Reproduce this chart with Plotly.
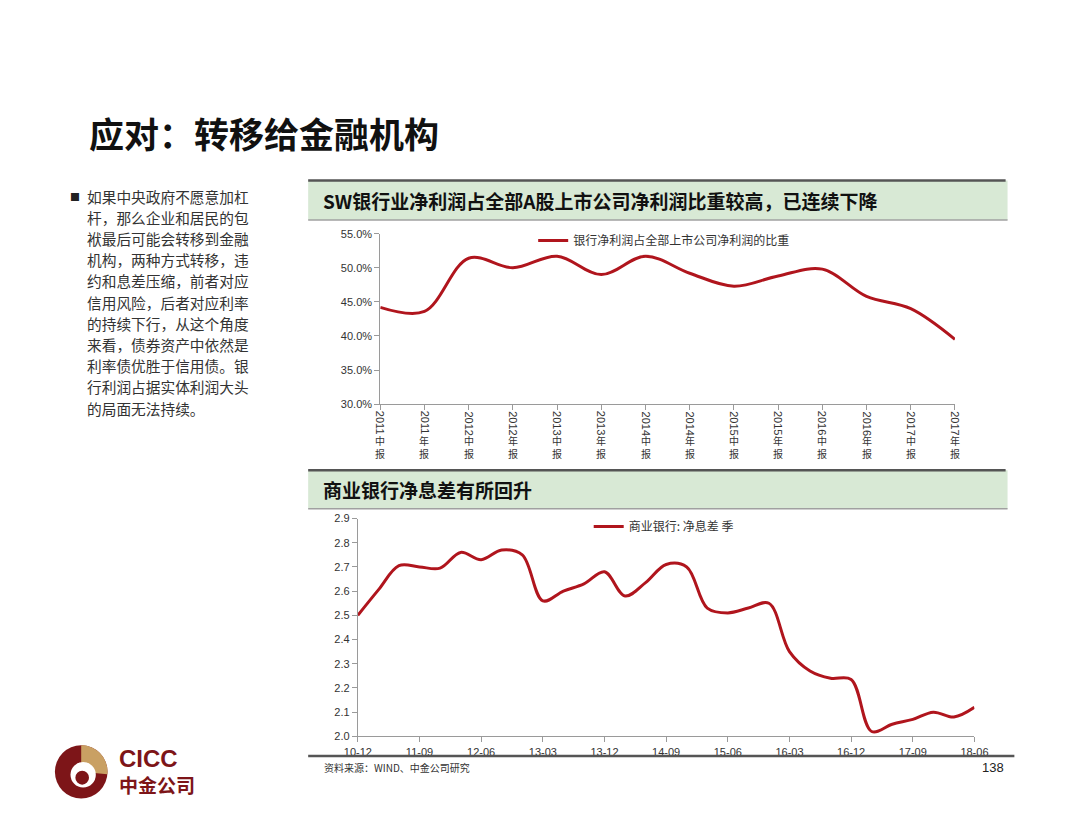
import math
import plotly.graph_objects as go

W, H = 1080, 834

# ---------------- data ----------------
top_categories = ["2011中报", "2011年报", "2012中报", "2012年报", "2013中报", "2013年报", "2014中报",
                  "2014年报", "2015中报", "2015年报", "2016中报", "2016年报", "2017中报", "2017年报"]
top_years = ["2011", "2011", "2012", "2012", "2013", "2013", "2014",
             "2014", "2015", "2015", "2016", "2016", "2017", "2017"]
top_suffix = ["中<br>报", "年<br>报"] * 7
bank_profit_share = [44.2, 43.6, 51.4, 50.0, 51.7, 49.0, 51.7,
                     49.2, 47.3, 48.8, 49.8, 45.8, 44.0, 39.5]

quarters = ["10-12", "11-03", "11-06", "11-09", "11-12", "12-03", "12-06", "12-09", "12-12",
            "13-03", "13-06", "13-09", "13-12", "14-03", "14-06", "14-09", "14-12",
            "15-03", "15-06", "15-09", "15-12", "16-03", "16-06", "16-09", "16-12",
            "17-03", "17-06", "17-09", "17-12", "18-03", "18-06"]
nim = [2.50, 2.605, 2.705, 2.70, 2.695, 2.76, 2.73, 2.77, 2.75,
       2.56, 2.60, 2.63, 2.68, 2.58, 2.635, 2.71, 2.70,
       2.53, 2.51, 2.53, 2.55, 2.35, 2.27, 2.24, 2.235,
       2.02, 2.05, 2.07, 2.10, 2.08, 2.12]
bottom_ticks = quarters[::3]

title_text = "应对：转移给金融机构"
body_lines = ["如果中央政府不愿意加杠", "杆，那么企业和居民的包", "袱最后可能会转移到金融",
              "机构，两种方式转移，违", "约和息差压缩，前者对应", "信用风险，后者对应利率",
              "的持续下行，从这个角度", "来看，债券资产中依然是", "利率债优胜于信用债。银",
              "行利润占据实体利润大头", "的局面无法持续。"]
top_header = "SW银行业净利润占全部A股上市公司净利润比重较高，已连续下降"
bottom_header = "商业银行净息差有所回升"
top_series_name = "银行净利润占全部上市公司净利润的比重"
bottom_series_name = "商业银行: 净息差 季"
source_text = "资料来源：WIND、中金公司研究"
page_no = "138"

# ---------------- helpers ----------------
def px(x):
    return x / W

def py(y):
    return 1 - y / H

RED = "#b0151d"
CJK = "Noto Sans CJK SC"
LAT = "Liberation Sans"
DARKRED = "#7d1518"
GOLD = "#c9a063"

fig = go.Figure()

fig.add_trace(go.Scatter(x=top_categories, y=bank_profit_share, mode="lines",
                         name=top_series_name,
                         line=dict(color=RED, width=3, shape="spline", smoothing=1),
                         xaxis="x", yaxis="y", legend="legend"))
fig.add_trace(go.Scatter(x=quarters, y=nim, mode="lines", name=bottom_series_name,
                         line=dict(color=RED, width=3, shape="spline", smoothing=1),
                         xaxis="x2", yaxis="y2", legend="legend2"))

axis_common = dict(showgrid=False, zeroline=False, showline=True, linecolor="#9a9a9a",
                   linewidth=1, ticks="outside", tickcolor="#9a9a9a", ticklen=5,
                   tickfont=dict(family=LAT, size=11, color="#333"))

fig.update_layout(
    width=W, height=H, margin=dict(l=0, r=0, t=0, b=0),
    paper_bgcolor="white", plot_bgcolor="white",
    xaxis=dict(domain=[px(376), px(966)], anchor="y", type="category",
               range=[0, len(top_categories) - 1], showticklabels=False, **axis_common),
    yaxis=dict(domain=[py(404), py(231)], anchor="x", range=[30, 55], dtick=5,
               tickformat=".1f", ticksuffix="%", **axis_common),
    xaxis2=dict(domain=[px(353), px(986)], anchor="y2", type="category",
                range=[0, len(quarters) - 1], tickvals=bottom_ticks, ticktext=bottom_ticks,
                **axis_common),
    yaxis2=dict(domain=[py(741), py(520)], anchor="x2", range=[2.0, 2.9], dtick=0.1,
                tickformat=".1f", **axis_common),
    legend=dict(x=px(533), y=py(238), xanchor="left", yanchor="middle",
                bgcolor="rgba(0,0,0,0)", font=dict(family=CJK, size=12, color="#333")),
    legend2=dict(x=px(590), y=py(528), xanchor="left", yanchor="middle",
                 bgcolor="rgba(0,0,0,0)", font=dict(family=CJK, size=12, color="#333")),
    showlegend=True,
)

shapes = []
# header bands
for (y0, y1) in [(177, 217), (471, 510)]:
    shapes.append(dict(type="rect", xref="paper", yref="paper", x0=px(302), x1=px(1020),
                       y0=py(y1), y1=py(y0), fillcolor="#d8e9d5", line=dict(width=0), layer="below"))
    shapes.append(dict(type="line", xref="paper", yref="paper", x0=px(302), x1=px(1018),
                       y0=py(y0), y1=py(y0), line=dict(color="#555", width=2.5)))
    shapes.append(dict(type="line", xref="paper", yref="paper", x0=px(302), x1=px(1020),
                       y0=py(y1), y1=py(y1), line=dict(color="#a0a0a0", width=1.5)))
# footer line
shapes.append(dict(type="line", xref="paper", yref="paper", x0=px(302), x1=px(1027),
                   y0=py(761), y1=py(761), line=dict(color="#555", width=2.5)))

# logo
cx, cy, r = 69, 777, 27
def circle(cx, cy, r, color):
    return dict(type="circle", xref="paper", yref="paper", x0=px(cx - r), x1=px(cx + r),
                y0=py(cy + r), y1=py(cy - r), fillcolor=color, line=dict(width=0))
shapes.append(circle(cx, cy, r, DARKRED))
pts = [(cx, cy)]
for k in range(0, 31):
    a = math.radians(90 - 95 * k / 30)
    pts.append((cx + r * math.cos(a), cy - r * math.sin(a)))
path = "M " + " L ".join(f"{px(x):.5f},{py(y):.5f}" for x, y in pts) + " Z"
shapes.append(dict(type="path", xref="paper", yref="paper", path=path, fillcolor=GOLD,
                   line=dict(width=0)))
shapes.append(circle(cx + 2, cy + 3, 13, "white"))
shapes.append(circle(cx + 1, cy + 6, 7, DARKRED))

annotations = []
# top x tick labels: rotated year + upright suffix
for cat, yr, sfx in zip(top_categories, top_years, top_suffix):
    annotations.append(dict(x=cat, xref="x", y=py(409), yref="paper", text=yr, textangle=90,
                            showarrow=False, xanchor="center", yanchor="top",
                            font=dict(family=LAT, size=11, color="#333")))
    annotations.append(dict(x=cat, xref="x", y=py(431), yref="paper", text=sfx,
                            showarrow=False, xanchor="center", yanchor="top",
                            font=dict(family=CJK, size=10, color="#333")))

# body paragraph, one annotation per line
for i, line in enumerate(body_lines):
    annotations.append(dict(x=px(73), y=py(193 + 21.5 * i), xref="paper", yref="paper",
                            text=line, showarrow=False, xanchor="left", yanchor="middle",
                            font=dict(family=CJK, size=14.7, color="#333")))

annotations += [
    dict(x=px(75), y=py(128), xref="paper", yref="paper", text=f"<b>{title_text}</b>",
         showarrow=False, xanchor="left", yanchor="middle",
         font=dict(family=CJK, size=35, color="#111")),
    dict(x=px(55), y=py(193), xref="paper", yref="paper", text="■", showarrow=False,
         xanchor="left", yanchor="middle", font=dict(family=CJK, size=10, color="#222")),
    dict(x=px(315), y=py(197), xref="paper", yref="paper", text=f"<b>{top_header}</b>",
         showarrow=False, xanchor="left", yanchor="middle",
         font=dict(family=CJK, size=19, color="#111")),
    dict(x=px(315), y=py(491), xref="paper", yref="paper", text=f"<b>{bottom_header}</b>",
         showarrow=False, xanchor="left", yanchor="middle",
         font=dict(family=CJK, size=19, color="#111")),
    dict(x=px(316), y=py(773), xref="paper", yref="paper", text=source_text,
         showarrow=False, xanchor="left", yanchor="middle",
         font=dict(family=CJK, size=10, color="#333")),
    dict(x=px(1018), y=py(773), xref="paper", yref="paper", text=page_no,
         showarrow=False, xanchor="right", yanchor="middle",
         font=dict(family=LAT, size=13, color="#222")),
    dict(x=px(106), y=py(763), xref="paper", yref="paper", text="<b>CICC</b>",
         showarrow=False, xanchor="left", yanchor="middle",
         font=dict(family=LAT, size=24, color=DARKRED)),
    dict(x=px(106), y=py(790), xref="paper", yref="paper", text="<b>中金公司</b>",
         showarrow=False, xanchor="left", yanchor="middle",
         font=dict(family=CJK, size=19, color=DARKRED)),
]

fig.update_layout(shapes=shapes, annotations=annotations)
fig.write_html("out.html")
